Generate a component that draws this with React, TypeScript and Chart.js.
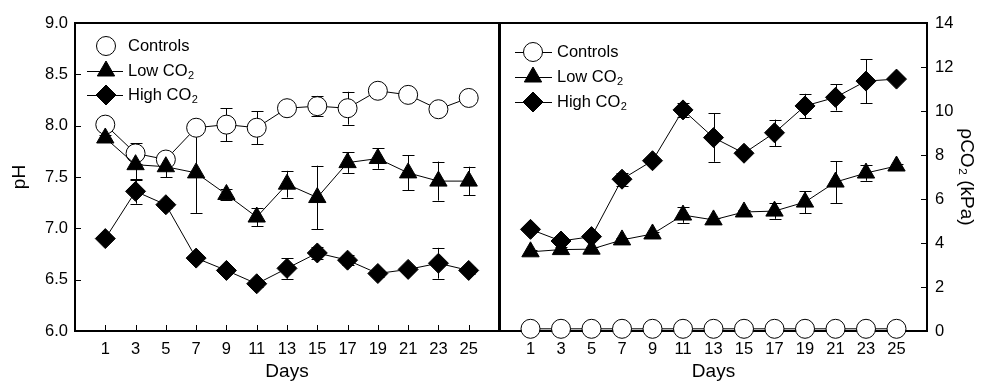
import React, { useEffect, useRef } from "react";
import { Chart, registerables } from "chart.js";
Chart.register(...registerables);

const FONT = "'Liberation Sans', Arial, Helvetica, sans-serif";

// ---- data ----
const days = [1, 3, 5, 7, 9, 11, 13, 15, 17, 19, 21, 23, 25];
const seriesNames = ["Controls", "Low CO₂", "High CO₂"];

const phTicks = [6.0, 6.5, 7.0, 7.5, 8.0, 8.5, 9.0];
const pco2Ticks = [0, 2, 4, 6, 8, 10, 12, 14];

const phControls = [8.01, 7.73, 7.67, 7.98, 8.01, 7.98, 8.17, 8.19, 8.17, 8.34, 8.3, 8.16, 8.27];
const phControlsErr = [0.02, 0.1, 0.04, 0.02, 0.16, 0.16, 0.03, 0.1, 0.16, 0.03, 0.03, 0.03, 0.03];
const phLow = [7.88, 7.62, 7.6, 7.54, 7.33, 7.11, 7.43, 7.3, 7.64, 7.68, 7.54, 7.46, 7.46];
const phLowErr = [0.03, 0.15, 0.1, 0.39, 0.05, 0.09, 0.13, 0.31, 0.1, 0.1, 0.17, 0.19, 0.14];
const phHigh = [6.9, 7.36, 7.23, 6.71, 6.59, 6.46, 6.61, 6.76, 6.69, 6.56, 6.6, 6.66, 6.59];
const phHighErr = [0.02, 0.12, 0.03, 0.03, 0.03, 0.03, 0.1, 0.06, 0.05, 0.03, 0.03, 0.15, 0.03];

const pco2Controls = [0.1, 0.1, 0.1, 0.1, 0.1, 0.1, 0.1, 0.1, 0.1, 0.1, 0.1, 0.1, 0.1];
const pco2ControlsErr = [0, 0, 0, 0, 0, 0, 0, 0, 0, 0, 0, 0, 0];
const pco2Low = [3.6, 3.7, 3.72, 4.14, 4.41, 5.27, 5.05, 5.41, 5.45, 5.86, 6.77, 7.18, 7.5];
const pco2LowErr = [0.1, 0.1, 0.1, 0.1, 0.1, 0.35, 0.1, 0.1, 0.35, 0.5, 0.95, 0.35, 0.1];
const pco2High = [4.62, 4.09, 4.29, 6.9, 7.74, 10.05, 8.79, 8.08, 9.01, 10.23, 10.62, 11.36, 11.45];
const pco2HighErr = [0.1, 0.1, 0.1, 0.3, 0.1, 0.3, 1.1, 0.1, 0.6, 0.55, 0.6, 1.0, 0.1];

// ---- styling ----
const styles = [
  { pointStyle: "circle", radius: 9.5, fill: "#fff" },
  { pointStyle: "triangle", radius: 10, fill: "#000" },
  { pointStyle: "rectRot", radius: 10, fill: "#000" },
];

function makeDataset(idx: number, values: number[], errors: number[]) {
  const st = styles[idx];
  return {
    label: seriesNames[idx],
    data: days.map((d, i) => ({ x: d, y: values[i] })),
    errors,
    pointStyle: st.pointStyle,
    pointRadius: st.radius,
    pointHoverRadius: st.radius,
    pointBackgroundColor: st.fill,
    pointBorderColor: "#000",
    pointBorderWidth: 1,
    borderColor: "#000",
    borderWidth: 1,
    showLine: true,
    fill: false,
    tension: 0,
    clip: false,
  };
}

function drawMarker(ctx: CanvasRenderingContext2D, style: string, x: number, y: number, r: number, fill: string) {
  ctx.beginPath();
  if (style === "circle") {
    ctx.arc(x, y, r, 0, Math.PI * 2);
  } else if (style === "triangle") {
    ctx.moveTo(x, y - r);
    ctx.lineTo(x + 0.866 * r, y + 0.5 * r);
    ctx.lineTo(x - 0.866 * r, y + 0.5 * r);
    ctx.closePath();
  } else {
    ctx.moveTo(x - r, y);
    ctx.lineTo(x, y - r);
    ctx.lineTo(x + r, y);
    ctx.lineTo(x, y + r);
    ctx.closePath();
  }
  ctx.fillStyle = fill;
  ctx.fill();
  ctx.lineWidth = 1;
  ctx.strokeStyle = "#000";
  ctx.stroke();
}

function drawSubLabel(ctx: CanvasRenderingContext2D, label: string, x: number, y: number, size: number) {
  ctx.fillStyle = "#000";
  ctx.textAlign = "left";
  ctx.textBaseline = "middle";
  let base = label;
  let sub = "";
  if (label.endsWith("₂")) {
    base = label.slice(0, -1);
    sub = "2";
  }
  ctx.font = `${size}px ${FONT}`;
  ctx.fillText(base, x, y);
  if (sub) {
    const w = ctx.measureText(base).width;
    ctx.font = `${Math.round(size * 0.68)}px ${FONT}`;
    ctx.fillText(sub, x + w + 0.5, y + size * 0.32);
  }
}

type PanelCfg = {
  yTicks: number[];
  side: "left" | "right";
  legend: { lineFrom: number; lineTo: number; markerX: number; textX: number; ys: number[]; lines: boolean[] };
};

function panelPlugin(cfg: PanelCfg) {
  return {
    id: "panelDecor",
    beforeDatasetsDraw(chart: any) {
      const { ctx, chartArea: a, scales } = chart;
      ctx.save();
      // frame
      ctx.strokeStyle = "#000";
      ctx.lineWidth = 2;
      ctx.strokeRect(a.left, a.top, a.right - a.left, a.bottom - a.top);
      // inward ticks
      ctx.lineWidth = 1;
      ctx.beginPath();
      days.forEach((d) => {
        const px = Math.round(scales.x.getPixelForValue(d)) + 0.5;
        ctx.moveTo(px, a.bottom);
        ctx.lineTo(px, a.bottom - 6);
      });
      cfg.yTicks.forEach((v) => {
        const py = Math.round(scales.y.getPixelForValue(v)) + 0.5;
        if (cfg.side === "left") {
          ctx.moveTo(a.left, py);
          ctx.lineTo(a.left + 6, py);
        } else {
          ctx.moveTo(a.right, py);
          ctx.lineTo(a.right - 6, py);
        }
      });
      ctx.stroke();
      // error bars
      chart.data.datasets.forEach((ds: any) => {
        const errs: number[] = ds.errors || [];
        ds.data.forEach((p: any, j: number) => {
          const e = errs[j];
          if (!e) return;
          const x = Math.round(scales.x.getPixelForValue(p.x)) + 0.5;
          const y1 = scales.y.getPixelForValue(p.y + e);
          const y2 = scales.y.getPixelForValue(p.y - e);
          ctx.beginPath();
          ctx.moveTo(x, y1);
          ctx.lineTo(x, y2);
          ctx.moveTo(x - 6, Math.round(y1) + 0.5);
          ctx.lineTo(x + 6, Math.round(y1) + 0.5);
          ctx.moveTo(x - 6, Math.round(y2) + 0.5);
          ctx.lineTo(x + 6, Math.round(y2) + 0.5);
          ctx.stroke();
        });
      });
      ctx.restore();
    },
    afterDatasetsDraw(chart: any) {
      const { ctx, chartArea: a } = chart;
      const L = cfg.legend;
      ctx.save();
      seriesNames.forEach((name, i) => {
        const y = a.top + L.ys[i];
        if (L.lines[i]) {
          ctx.beginPath();
          ctx.strokeStyle = "#000";
          ctx.lineWidth = 1;
          ctx.moveTo(a.left + L.lineFrom, y + 0.5);
          ctx.lineTo(a.left + L.lineTo, y + 0.5);
          ctx.stroke();
        }
        const st = styles[i];
        drawMarker(ctx, st.pointStyle, a.left + L.markerX, y, st.radius, st.fill);
        drawSubLabel(ctx, name, a.left + L.textX, y, 16.5);
      });
      ctx.restore();
    },
  };
}

function xScale() {
  return {
    type: "linear",
    min: -1,
    max: 27,
    afterBuildTicks: (s: any) => {
      s.ticks = days.map((v) => ({ value: v }));
    },
    afterFit: (s: any) => {
      s.height = 52;
    },
    grid: { display: false, drawTicks: false },
    border: { display: false },
    ticks: {
      autoSkip: false,
      maxRotation: 0,
      padding: 9,
      color: "#000",
      font: { size: 16.5, family: FONT },
      callback: (v: any) => String(v),
    },
    title: { display: true, text: "Days", color: "#000", font: { size: 19, family: FONT }, padding: { top: 0, bottom: 0 } },
  };
}

function baseOptions(padding: any, yScale: any) {
  return {
    animation: false,
    responsive: false,
    events: [],
    layout: { padding },
    plugins: { legend: { display: false }, tooltip: { enabled: false } },
    scales: { x: xScale(), y: yScale },
  };
}

export default function App() {
  const leftRef = useRef<HTMLCanvasElement>(null);
  const rightRef = useRef<HTMLCanvasElement>(null);

  useEffect(() => {
    Chart.defaults.font.family = FONT;
    const left = new Chart(leftRef.current as HTMLCanvasElement, {
      type: "line",
      data: {
        datasets: [
          makeDataset(2, phHigh, phHighErr),
          makeDataset(1, phLow, phLowErr),
          makeDataset(0, phControls, phControlsErr),
        ],
      },
      options: baseOptions(
        { left: 0, right: 483, top: 23, bottom: 0 },
        {
          min: 6,
          max: 9,
          position: "left",
          afterBuildTicks: (s: any) => {
            s.ticks = phTicks.map((v) => ({ value: v }));
          },
          afterFit: (s: any) => {
            s.width = 75;
          },
          grid: { display: false, drawTicks: false },
          border: { display: false },
          ticks: {
            padding: 7,
            color: "#000",
            font: { size: 16.5, family: FONT },
            callback: (v: any) => Number(v).toFixed(1),
          },
          title: { display: true, text: "pH", color: "#000", font: { size: 19, family: FONT }, padding: { top: 8, bottom: 0 } },
        }
      ) as any,
      plugins: [
        panelPlugin({
          yTicks: phTicks,
          side: "left",
          legend: { lineFrom: 12, lineTo: 48, markerX: 31, textX: 53, ys: [23, 48, 72], lines: [false, true, true] },
        }),
      ],
    } as any);

    const right = new Chart(rightRef.current as HTMLCanvasElement, {
      type: "line",
      data: {
        datasets: [
          makeDataset(2, pco2High, pco2HighErr),
          makeDataset(1, pco2Low, pco2LowErr),
          makeDataset(0, pco2Controls, pco2ControlsErr),
        ],
      },
      options: baseOptions(
        { left: 500, right: 0, top: 23, bottom: 0 },
        {
          min: 0,
          max: 14,
          position: "right",
          afterBuildTicks: (s: any) => {
            s.ticks = pco2Ticks.map((v) => ({ value: v }));
          },
          afterFit: (s: any) => {
            s.width = 55;
          },
          grid: { display: false, drawTicks: false },
          border: { display: false },
          ticks: {
            padding: 8,
            color: "#000",
            font: { size: 16.5, family: FONT },
            callback: (v: any) => String(v),
          },
          title: { display: true, text: "ρCO₂ (kPa)", color: "#000", font: { size: 19, family: FONT }, padding: { top: 4, bottom: 0 } },
        }
      ) as any,
      plugins: [
        panelPlugin({
          yTicks: pco2Ticks,
          side: "right",
          legend: { lineFrom: 15, lineTo: 52, markerX: 33, textX: 57, ys: [29, 54, 79], lines: [true, true, true] },
        }),
      ],
    } as any);

    return () => {
      left.destroy();
      right.destroy();
    };
  }, []);

  return (
    <div style={{ position: "absolute", left: 0, top: 0, width: 982, height: 383, background: "#fff" }}>
      <canvas ref={leftRef} width={982} height={383} style={{ position: "absolute", left: 0, top: 0 }} />
      <canvas ref={rightRef} width={982} height={383} style={{ position: "absolute", left: 0, top: 0 }} />
    </div>
  );
}
